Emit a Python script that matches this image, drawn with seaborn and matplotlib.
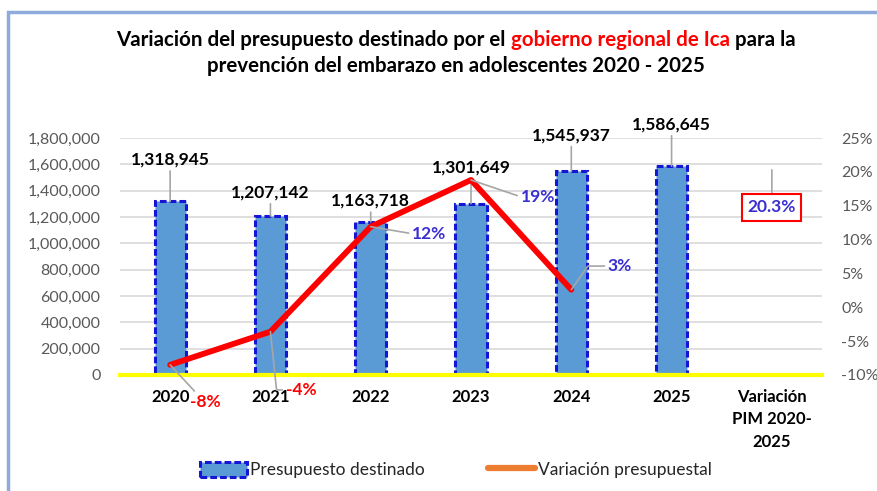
import numpy as np
import pandas as pd
import matplotlib
matplotlib.use("Agg")
import matplotlib.pyplot as plt
from matplotlib.patches import Rectangle, Patch
from matplotlib.lines import Line2D
import seaborn as sns

# ---------------- data ----------------
categories = ["2020", "2021", "2022", "2023", "2024", "2025", "Variación\nPIM 2020-\n2025"]
budget = [1318945, 1207142, 1163718, 1301649, 1545937, 1586645]
budget_labels = ["1,318,945", "1,207,142", "1,163,718", "1,301,649", "1,545,937", "1,586,645"]
variation = [-8.5, -3.6, 11.9, 18.8, 2.6]          # % (plotted at 2020..2024)
variation_labels = ["-8%", "-4%", "12%", "19%", "3%"]
total_variation = 20.3
total_variation_label = "20.3%"
left_ticks = list(range(0, 1800001, 200000))
right_ticks = list(range(-10, 26, 5))

FONT = "Lato"
sns.set_theme(style="white")
plt.rcParams["font.family"] = [FONT, "DejaVu Sans"]

BAR_COLOR = "#5B9BD5"
BAR_EDGE = "#1515D5"
RED = "#FF0000"
BLUE_TXT = "#3A2FD0"
GRID = "#D9D9D9"
TICK_TXT = "#595959"
LEADER = "#A6A6A6"

fig = plt.figure(figsize=(8.78, 4.91), dpi=100)
W, H = 878, 491

def fx(px):
    return px / W

def fy(py):
    return 1 - py / H

# outer frame (light blue, partially visible)
fig.patches.append(Rectangle((fx(8), fy(500)), 1.2, fy(12) - fy(500), transform=fig.transFigure,
                             fill=False, edgecolor="#8FAADC", linewidth=2.5, clip_on=False))

ax = fig.add_axes([fx(120), fy(375), fx(822) - fx(120), fy(138) - fy(375)])

df = pd.DataFrame({"cat": categories, "val": budget + [np.nan]})
sns.barplot(data=df, x="cat", y="val", order=categories, ax=ax, width=0.31,
            color=BAR_COLOR, saturation=1, edgecolor=BAR_EDGE, linewidth=2.2,
            linestyle=(0, (2.2, 1.0)), errorbar=None, zorder=2)

ax.set_ylim(0, 1800000)
ax.set_xlim(-0.5, len(categories) - 0.5)
ax.set_yticks(left_ticks)
ax.set_yticklabels([f"{v:,}" for v in left_ticks], color=TICK_TXT, fontsize=11.5)
ax.yaxis.grid(True, color=GRID, linewidth=1.2, zorder=0)
ax.set_axisbelow(True)
ax.set_xlabel("")
ax.set_ylabel("")
ax.tick_params(axis="y", length=0, pad=14)
ax.tick_params(axis="x", length=0, pad=10)
ax.set_xticks(range(len(categories)))
ax.set_xticklabels(categories, fontsize=12, fontweight="bold", color="black", linespacing=1.5,
                   va="top")
for s in ["top", "right", "left"]:
    ax.spines[s].set_visible(False)
ax.spines["bottom"].set_color("#FFFF00")
ax.spines["bottom"].set_linewidth(3)
ax.spines["bottom"].set_zorder(5)

LABEL_FS = 12.5

# bar value labels
bar_offsets = [30, 17, 15, 26, 26, 30]
for i, (v, lab) in enumerate(zip(budget, budget_labels)):
    ax.annotate(lab, xy=(i, v), xytext=(0, bar_offsets[i]), textcoords="offset points",
                ha="center", va="center", fontsize=LABEL_FS, fontweight="bold", color="black",
                arrowprops=dict(arrowstyle="-", color=LEADER, lw=1.2, shrinkA=0, shrinkB=0),
                zorder=6)

# line on secondary axis
ax2 = ax.twinx()
sns.lineplot(x=list(range(len(variation))), y=variation, ax=ax2, color=RED, linewidth=4.2,
             zorder=4, legend=False)
ax2.set_ylim(-10, 25)
ax2.set_xlim(-0.5, len(categories) - 0.5)
ax2.set_yticks(right_ticks)
ax2.set_yticklabels([f"{t}%" for t in right_ticks], color=TICK_TXT, fontsize=11.5)
ax2.tick_params(axis="y", length=0, pad=14)
ax2.grid(False)
for s in ["top", "right", "left", "bottom"]:
    ax2.spines[s].set_visible(False)

var_offsets = [(25, -27), (22, -42), (42, -5), (48, -12), (35, 17)]
var_colors = [RED, RED, BLUE_TXT, BLUE_TXT, BLUE_TXT]
var_conn = ["arc3", "angle,angleA=0,angleB=96,rad=0", "arc3", "arc3", "angle,angleA=0,angleB=55,rad=0"]
for i, (v, lab) in enumerate(zip(variation, variation_labels)):
    ax2.annotate(lab, xy=(i, v), xytext=var_offsets[i], textcoords="offset points",
                 ha="center", va="center", fontsize=LABEL_FS, fontweight="bold", color=var_colors[i],
                 arrowprops=dict(arrowstyle="-", color=LEADER, lw=1.2, shrinkA=0, shrinkB=0,
                                 relpos=(0, 0.5) if i > 0 else (0.5, 0.5),
                                 connectionstyle=var_conn[i]),
                 zorder=6)

ax2.annotate(total_variation_label, xy=(len(categories) - 1, total_variation), xytext=(0, -27),
             textcoords="offset points", ha="center", va="center", fontsize=LABEL_FS,
             fontweight="bold", color=BLUE_TXT,
             bbox=dict(boxstyle="square,pad=0.3", facecolor="white", edgecolor=RED, linewidth=1.5),
             arrowprops=dict(arrowstyle="-", color=LEADER, lw=1.2, shrinkA=0, shrinkB=0),
             zorder=6)

# legend
handles = [Patch(facecolor=BAR_COLOR, edgecolor=BAR_EDGE, linewidth=2.2, linestyle=(0, (2.2, 1.0))),
           Line2D([0], [0], color="#ED7D31", linewidth=4.5)]
fig.legend(handles, ["Presupuesto destinado", "Variación presupuestal"], loc="center",
           bbox_to_anchor=(fx(456), fy(470)), ncol=2, frameon=False, fontsize=12.5,
           handlelength=2.7, handleheight=1.0, handletextpad=0.2, columnspacing=3.6)

# title with a red fragment, centred line by line
renderer = fig.canvas.get_renderer()
title_fs = 14.8
line1 = [("Variación del presupuesto destinado por el ", "black"),
         ("gobierno regional de Ica", RED),
         (" para la", "black")]
line2 = [("prevención del embarazo en adolescentes 2020 - 2025", "black")]

def draw_line(parts, ycenter_px, xcenter_px):
    texts = []
    widths = []
    for s, c in parts:
        t = fig.text(0, fy(ycenter_px), s, color=c, fontsize=title_fs, fontweight="bold",
                     ha="left", va="center")
        texts.append(t)
        widths.append(t.get_window_extent(renderer).width)
    total = sum(widths)
    x = xcenter_px - total / 2
    for t, w in zip(texts, widths):
        t.set_x(fx(x))
        x += w

draw_line(line1, 40, 456)
draw_line(line2, 66, 456)

fig.savefig("out.png", dpi=100)
